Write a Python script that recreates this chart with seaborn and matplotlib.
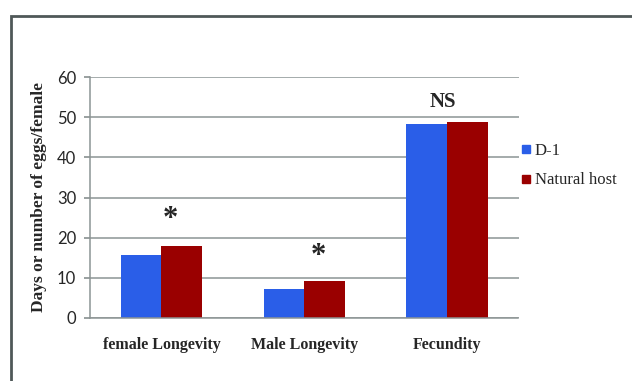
import pandas as pd
import numpy as np
import matplotlib
matplotlib.use("Agg")
import matplotlib.pyplot as plt
import seaborn as sns
from matplotlib.patches import Rectangle
from matplotlib.lines import Line2D

# data
categories = ["female Longevity", "Male Longevity", "Fecundity"]
d1_values = [15.7, 7.2, 48.4]
natural_values = [17.9, 9.2, 48.8]
series_names = ["D-1", "Natural host"]
marks = ["*", "*", "NS"]

df = pd.DataFrame({
    "trait": categories * 2,
    "value": d1_values + natural_values,
    "host": [series_names[0]] * 3 + [series_names[1]] * 3,
})

sns.set_theme(style="white")
plt.rcParams["font.family"] = ["Liberation Serif", "DejaVu Serif"]

fig = plt.figure(figsize=(6.32, 3.81), dpi=100)
ax = fig.add_axes([90 / 632, 1 - 318 / 381, 428.5 / 632, 241 / 381])

palette = {"D-1": "#2a5ee8", "Natural host": "#9a0000"}
sns.barplot(data=df, x="trait", y="value", hue="host", palette=palette,
            width=0.57, gap=0, saturation=1, linewidth=0, ax=ax, legend=False)

ax.set_ylim(0, 60)
ax.set_yticks(range(0, 61, 10))
ax.yaxis.grid(True, color="#8c9494", linewidth=1.1)
ax.set_axisbelow(True)
for s in ["top", "right"]:
    ax.spines[s].set_visible(False)
for s in ["left", "bottom"]:
    ax.spines[s].set_color("#8c9494")
    ax.spines[s].set_linewidth(1.1)
ax.tick_params(axis="y", length=4, color="#8c9494", left=True, pad=6)
ax.tick_params(axis="x", length=0, pad=14)
for t in ax.get_yticklabels():
    t.set_fontfamily("Lato")
    t.set_fontsize(12)
for t in ax.get_xticklabels():
    t.set_fontweight("bold")
    t.set_fontsize(11.5)
ax.set_xlabel("")
ax.set_ylabel("Days or number of eggs/female", fontsize=12.5, fontweight="bold", labelpad=7)

# significance marks
tops = [max(a, b) for a, b in zip(d1_values, natural_values)]
offsets = [6.5, 6.0, 5.0]
xs = [0.06, 0.1, -0.03]
for i, m in enumerate(marks):
    size = 22 if m == "*" else 15
    ax.text(i + xs[i], tops[i] + offsets[i], m, ha="center", va="center",
            fontsize=size, fontweight="bold")

# legend
handles = [Line2D([], [], marker="s", linestyle="", markersize=6,
                  color=palette[n]) for n in series_names]
fig.legend(handles, series_names, loc="upper left",
           bbox_to_anchor=(503 / 632, 1 - 128 / 381), frameon=False,
           fontsize=12, handletextpad=0.0, labelspacing=0.8, handlelength=1.0)

# outer frame
fig.patches.append(Rectangle((11 / 632, -0.02), 1.0, 1 - 16 / 381 + 0.02,
                             transform=fig.transFigure, fill=False,
                             edgecolor="#4f5858", linewidth=2))

fig.savefig("out.png", dpi=100)
